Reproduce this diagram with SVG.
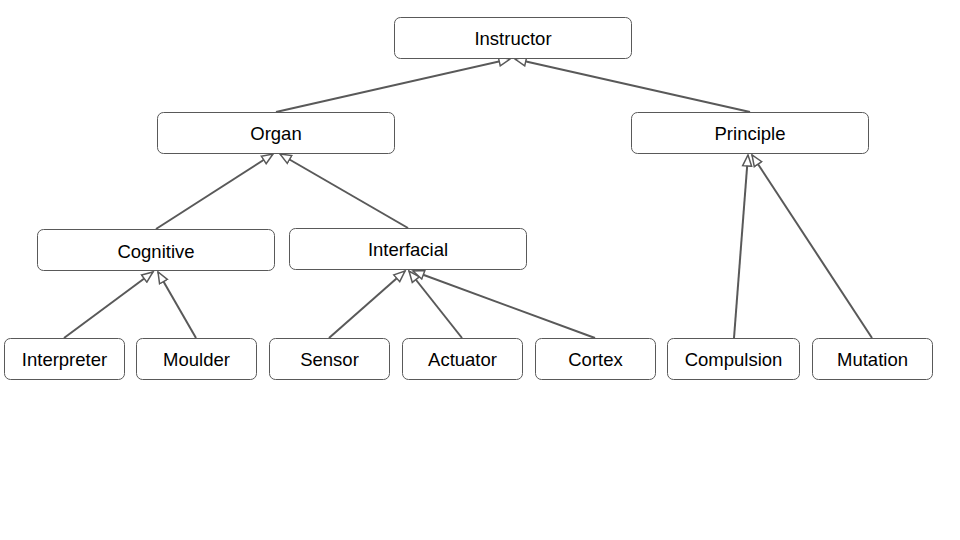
<svg xmlns="http://www.w3.org/2000/svg" width="960" height="540" viewBox="0 0 960 540">
<style>
.n rect{fill:#fff;stroke:#595959;stroke-width:1}
.n text{font-family:"Liberation Sans",Arial,sans-serif;font-size:18.5px;fill:#000;text-anchor:middle;dominant-baseline:central}
.c line{stroke:#595959;stroke-width:2}
</style>
<defs>
<marker id="tri" markerUnits="userSpaceOnUse" markerWidth="14" markerHeight="12" viewBox="0 0 14 12" refX="12" refY="6" orient="auto">
<path d="M1,1.5 L12,6 L1,10.5 Z" fill="#fff" stroke="#595959" stroke-width="1.5"/>
</marker>
</defs>
<rect width="960" height="540" fill="#fff"/>
<g class="c">
<line x1="276" y1="112" x2="510" y2="59" marker-end="url(#tri)"/>
<line x1="750" y1="112" x2="515" y2="59" marker-end="url(#tri)"/>
<line x1="156" y1="229" x2="273" y2="154" marker-end="url(#tri)"/>
<line x1="408" y1="228" x2="280" y2="154" marker-end="url(#tri)"/>
<line x1="64" y1="338" x2="153" y2="272" marker-end="url(#tri)"/>
<line x1="196" y1="338" x2="158" y2="272" marker-end="url(#tri)"/>
<line x1="329" y1="338" x2="405" y2="271" marker-end="url(#tri)"/>
<line x1="462" y1="338" x2="409" y2="271" marker-end="url(#tri)"/>
<line x1="595" y1="338" x2="413" y2="271" marker-end="url(#tri)"/>
<line x1="734" y1="338" x2="748" y2="155" marker-end="url(#tri)"/>
<line x1="872" y1="338" x2="752" y2="155" marker-end="url(#tri)"/>
</g>
<g id="instructor" class="n"><rect x="394.5" y="17.5" width="237" height="41" rx="6"/><text x="513" y="38">Instructor</text></g>
<g id="organ" class="n"><rect x="157.5" y="112.5" width="237" height="41" rx="6"/><text x="276" y="133">Organ</text></g>
<g id="principle" class="n"><rect x="631.5" y="112.5" width="237" height="41" rx="6"/><text x="750" y="133">Principle</text></g>
<g id="cognitive" class="n"><rect x="37.5" y="229.5" width="237" height="41" rx="6"/><text x="156" y="251">Cognitive</text></g>
<g id="interfacial" class="n"><rect x="289.5" y="228.5" width="237" height="41" rx="6"/><text x="408" y="249">Interfacial</text></g>
<g id="interpreter" class="n"><rect x="4.5" y="338.5" width="120" height="41" rx="6"/><text x="64.5" y="359">Interpreter</text></g>
<g id="moulder" class="n"><rect x="136.5" y="338.5" width="120" height="41" rx="6"/><text x="196.5" y="359">Moulder</text></g>
<g id="sensor" class="n"><rect x="269.5" y="338.5" width="120" height="41" rx="6"/><text x="329.5" y="359">Sensor</text></g>
<g id="actuator" class="n"><rect x="402.5" y="338.5" width="120" height="41" rx="6"/><text x="462.5" y="359">Actuator</text></g>
<g id="cortex" class="n"><rect x="535.5" y="338.5" width="120" height="41" rx="6"/><text x="595.5" y="359">Cortex</text></g>
<g id="compulsion" class="n"><rect x="667.5" y="338.5" width="132" height="41" rx="6"/><text x="733.5" y="359">Compulsion</text></g>
<g id="mutation" class="n"><rect x="812.5" y="338.5" width="120" height="41" rx="6"/><text x="872.5" y="359">Mutation</text></g>
</svg>
